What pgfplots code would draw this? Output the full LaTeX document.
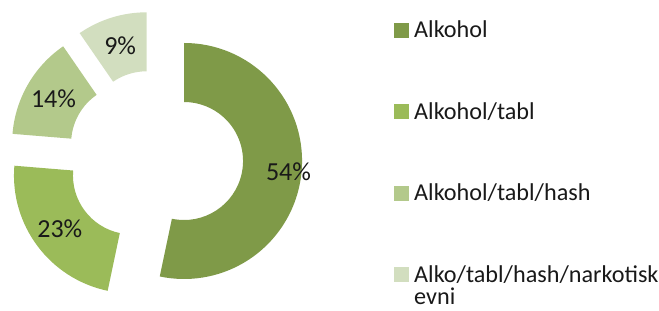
\documentclass[border=0pt]{standalone}
\usepackage{pgfplots}
\usepackage{pgfplotstable}
\pgfplotsset{compat=1.18}
\usepackage{fontspec}
\setmainfont{Carlito}
\definecolor{c0}{HTML}{7F9A48}
\definecolor{c1}{HTML}{9BBB59}
\definecolor{c2}{HTML}{B3C98B}
\definecolor{c3}{HTML}{D2DEBF}

% value = share in percent, shown = label, lr = label distance (px)
\pgfplotstableread{
value shown lr
53.3 54 105
23.0 23 90
14.1 14 88.5
9.6 9 89
}\data

% geometry (1 unit = 1 px)
\def\CX{155.2}\def\CY{153}\def\D{29}
\def\acc{0}
\foreach \i in {0,...,3}{%
  \pgfplotstablegetelem{\i}{value}\of\data
  \let\v\pgfplotsretval
  \pgfplotstablegetelem{\i}{shown}\of\data
  \let\s\pgfplotsretval
  \pgfplotstablegetelem{\i}{lr}\of\data
  \let\r\pgfplotsretval
  \pgfmathsetmacro\aS{90-3.6*\acc}%
  \pgfmathsetmacro\aE{\aS-3.6*\v}%
  \pgfmathsetmacro\aM{(\aS+\aE)/2}%
  \pgfmathsetmacro\cx{\CX+\D*cos(\aM)}%
  \pgfmathsetmacro\cy{\CY+\D*sin(\aM)}%
  \pgfmathsetmacro\lx{\cx+\r*cos(\aM)}%
  \pgfmathsetmacro\ly{\cy+\r*sin(\aM)}%
  \expandafter\xdef\csname aS\i\endcsname{\aS}%
  \expandafter\xdef\csname aE\i\endcsname{\aE}%
  \expandafter\xdef\csname cx\i\endcsname{\cx}%
  \expandafter\xdef\csname cy\i\endcsname{\cy}%
  \expandafter\xdef\csname lx\i\endcsname{\lx}%
  \expandafter\xdef\csname ly\i\endcsname{\ly}%
  \expandafter\xdef\csname s\i\endcsname{\s}%
  \pgfmathsetmacro\newacc{\acc+\v}%
  \xdef\acc{\newacc}%
}

\begin{document}
\begin{tikzpicture}
\useasboundingbox (0,0) rectangle (659bp,311bp);
\begin{axis}[at={(0,0)}, anchor=south west, width=659bp, height=311bp,
  scale only axis, xmin=0, xmax=659, ymin=0, ymax=311, hide axis, clip=false]
\pgfplotsinvokeforeach{0,1,2,3}{
  \fill[c#1, shift={(axis cs:\csname cx#1\endcsname,\csname cy#1\endcsname)}]
    (\csname aS#1\endcsname:118bp)
    arc[start angle=\csname aS#1\endcsname, end angle=\csname aE#1\endcsname, radius=118bp]
    -- (\csname aE#1\endcsname:59bp)
    arc[start angle=\csname aE#1\endcsname, end angle=\csname aS#1\endcsname, radius=59bp]
    -- cycle;
  \node[font=\fontsize{26bp}{30bp}\selectfont, text=black!90, inner sep=0pt]
    at (axis cs:\csname lx#1\endcsname,\csname ly#1\endcsname) {\csname s#1\endcsname\%};
}
% legend
\fill[c0] (axis cs:394,273) rectangle (axis cs:409,288);
\fill[c1] (axis cs:394,191.5) rectangle (axis cs:409,206.5);
\fill[c2] (axis cs:394,110) rectangle (axis cs:409,125);
\fill[c3] (axis cs:394,29) rectangle (axis cs:409,44);
\begin{scope}[every node/.style={anchor=base west, inner sep=0pt, text=black!90, font=\fontsize{24.2bp}{28bp}\selectfont}]
\node at (axis cs:414,273) {Alkohol};
\node at (axis cs:414,191.5) {Alkohol/tabl};
\node at (axis cs:414,110) {Alkohol/tabl/hash};
\node at (axis cs:414,29) {Alko/tabl/hash/narkotisk};
\node at (axis cs:414,7) {evni};
\end{scope}
\end{axis}
\end{tikzpicture}
\end{document}
